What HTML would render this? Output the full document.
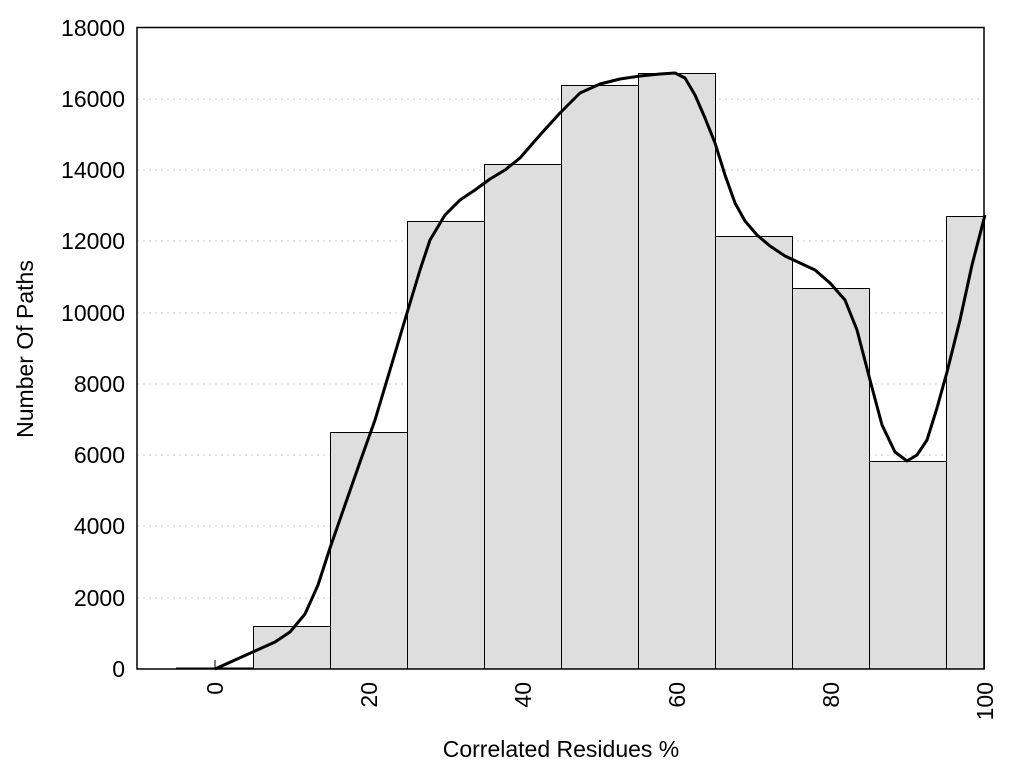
<!DOCTYPE html>
<html><head><style>body{margin:0;background:#fff}svg{display:block}text{font-family:"Liberation Sans",sans-serif;fill:#000}</style></head><body>
<svg width="1024" height="768" viewBox="0 0 1024 768">
<g stroke="#c8c8c8" stroke-width="1" stroke-dasharray="2,4">
<line x1="137" y1="99" x2="984" y2="99"/><line x1="137" y1="170" x2="984" y2="170"/><line x1="137" y1="241" x2="984" y2="241"/><line x1="137" y1="313" x2="984" y2="313"/><line x1="137" y1="384" x2="984" y2="384"/><line x1="137" y1="455" x2="984" y2="455"/><line x1="137" y1="526" x2="984" y2="526"/><line x1="137" y1="598" x2="984" y2="598"/>
</g>
<g fill="#dedede" stroke="#000" stroke-width="1">
<rect x="176.5" y="668" width="77" height="1"/>
<rect x="253.5" y="626.5" width="77" height="42.5"/>
<rect x="330.5" y="432.5" width="77" height="236.5"/>
<rect x="407.5" y="221.5" width="77" height="447.5"/>
<rect x="484.5" y="164.5" width="77" height="504.5"/>
<rect x="561.5" y="85.5" width="77" height="583.5"/>
<rect x="638.5" y="73.5" width="77" height="595.5"/>
<rect x="715.5" y="236.5" width="77" height="432.5"/>
<rect x="792.5" y="288.5" width="77" height="380.5"/>
<rect x="869.5" y="461.5" width="77" height="207.5"/>
<rect x="946.5" y="216.5" width="38" height="452.5"/>
</g>
<polyline fill="none" stroke="#000" stroke-width="3" stroke-linejoin="round" points="215,669 235,660 255,651 275,642 290,632 305,614 318,585 330,548 345,505 360,462 375,420 390,370 407,313 420,270 430,240 445,215 460,200 475,190 490,179 505,170 520,158 540,135 560,113 580,93 600,84 620,79 640,76 660,74 675,73 685,78 695,95 705,118 715,143 725,175 735,203 745,221 757,235 770,246 785,256 800,263 815,270 830,283 845,300 857,330 870,380 882,425 895,452 907,461 917,455 927,440 937,408 947,372 960,320 972,265 985,215"/>
<line x1="215" y1="669" x2="215" y2="660" stroke="#000" stroke-width="1"/>
<rect x="137" y="27.5" width="847" height="641.5" fill="none" stroke="#000" stroke-width="1.5"/>
<g font-size="23" text-anchor="end">
<text x="125" y="677">0</text><text x="125" y="606">2000</text><text x="125" y="534">4000</text><text x="125" y="463">6000</text><text x="125" y="392">8000</text><text x="125" y="321">10000</text><text x="125" y="249">12000</text><text x="125" y="178">14000</text><text x="125" y="107">16000</text><text x="125" y="36">18000</text>
</g>
<g font-size="23" text-anchor="end">
<text transform="translate(223,682) rotate(-90)">0</text>
<text transform="translate(377,682) rotate(-90)">20</text>
<text transform="translate(531,682) rotate(-90)">40</text>
<text transform="translate(685,682) rotate(-90)">60</text>
<text transform="translate(839,682) rotate(-90)">80</text>
<text transform="translate(993,682) rotate(-90)">100</text>
</g>
<text x="561" y="757" font-size="23" text-anchor="middle">Correlated Residues %</text>
<text transform="translate(33,349) rotate(-90)" font-size="23" text-anchor="middle">Number Of Paths</text>
</svg>
</body></html>
